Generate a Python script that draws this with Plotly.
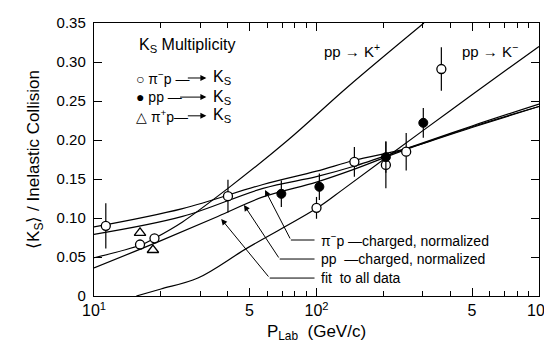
import math
import plotly.graph_objects as go

# pi- p -> Ks (open circles)
pim_x = [11.3, 16.1, 18.7, 40, 100, 148, 205, 253, 364]
pim_y = [0.090, 0.066, 0.074, 0.128, 0.113, 0.172, 0.168, 0.185, 0.291]
pim_err = [0.029, 0, 0, 0.021, 0.014, 0.019, 0.03, 0.024, 0.028]

# pp -> Ks (filled circles)
pp_x = [69.5, 103, 205, 302]
pp_y = [0.131, 0.140, 0.178, 0.222]
pp_err = [0.017, 0.017, 0.02, 0.019]

# pi+ p -> Ks (triangles)
pip_x = [16.1, 18.4]
pip_y = [0.081, 0.059]

# curves
kplus_x = [10, 16.1, 18.7, 25, 40, 74.5, 138, 304]
kplus_y = [0.049, 0.065, 0.074, 0.095, 0.138, 0.200, 0.268, 0.350]
kminus_x = [15.5, 20, 29.3, 49.2, 101, 133.5, 304, 500, 1000]
kminus_y = [0.0, 0.009, 0.023, 0.062, 0.113, 0.138, 0.213, 0.258, 0.320]

pim_norm_x = [10, 25, 57.5, 100, 148, 253, 500, 1000]
pim_norm_y = [0.0885, 0.112, 0.143, 0.160, 0.174, 0.189, 0.216, 0.243]
pp_norm_x = [10, 25, 57.5, 100, 146, 253, 500, 1000]
pp_norm_y = [0.079, 0.102, 0.138, 0.153, 0.166, 0.189, 0.218, 0.246]
fit_x = [10, 20, 36, 57.5, 100, 146, 253, 500, 1000]
fit_y = [0.036, 0.071, 0.102, 0.127, 0.146, 0.162, 0.188, 0.217, 0.243]

FONT = 'Liberation Sans'

fig = go.Figure()

for cx, cy in [(kplus_x, kplus_y), (kminus_x, kminus_y), (pim_norm_x, pim_norm_y),
               (pp_norm_x, pp_norm_y), (fit_x, fit_y)]:
    fig.add_trace(go.Scatter(x=cx, y=cy, mode='lines', line_shape='spline',
                             line=dict(color='black', width=1.2), hoverinfo='skip'))

err = dict(type='data', width=0, thickness=1.2, color='black')
fig.add_trace(go.Scatter(x=pim_x, y=pim_y, mode='markers', name='π⁻p',
                         error_y=dict(err, array=pim_err),
                         marker=dict(symbol='circle', size=9, color='white',
                                     line=dict(color='black', width=1.3))))
fig.add_trace(go.Scatter(x=pp_x, y=pp_y, mode='markers', name='pp',
                         error_y=dict(err, array=pp_err),
                         marker=dict(symbol='circle', size=9, color='black',
                                     line=dict(color='black', width=1))))
fig.add_trace(go.Scatter(x=pip_x, y=pip_y, mode='markers', name='π⁺p',
                         marker=dict(symbol='triangle-up', size=10, color='white',
                                     line=dict(color='black', width=1.3))))

ann = []


def text(x, y, s, size=14, xanchor='left'):
    ann.append(dict(x=math.log10(x), y=y, xref='x', yref='y', text=s, showarrow=False,
                    xanchor=xanchor, yanchor='middle', font=dict(family=FONT, size=size)))


def leader(x0, y0, x1, y1, head=0):
    ann.append(dict(x=math.log10(x1), y=y1, ax=math.log10(x0), ay=y0, xref='x', yref='y',
                    axref='x', ayref='y', text='', showarrow=True, arrowhead=head,
                    arrowsize=1.2, arrowwidth=1, arrowcolor='black', standoff=0))


# legend block
text(15.6, 0.321, 'K<sub>S</sub> Multiplicity', size=16)
text(15.2, 0.2795, '○ π<sup>−</sup>p —', size=14)
text(15.2, 0.255, '● pp —', size=14)
text(15.2, 0.231, '△ π<sup>+</sup>p—', size=14)
for yy in [0.2795, 0.255, 0.231]:
    leader(26.0 if yy != 0.255 else 24.0, yy, 32.0, yy, head=2)
    text(33.5, yy, 'K<sub>S</sub>', size=16)

text(106, 0.315, 'pp → K<sup>+</sup>', size=15)
text(440, 0.315, 'pp → K<sup>−</sup>', size=15)

# curve labels with leaders
text(102.5, 0.0718, 'π<sup>−</sup>p —charged, normalized', size=14)
text(102.5, 0.0474, 'pp  —charged, normalized', size=14)
text(102.5, 0.023, 'fit  to all data', size=14)
leader(99.5, 0.0718, 76.7, 0.0718)
leader(76.7, 0.0718, 58.7, 0.136, head=2)
leader(99.5, 0.0474, 68.3, 0.0474)
leader(68.3, 0.0474, 47.2, 0.1167, head=2)
leader(99.5, 0.023, 61.6, 0.023)
leader(61.6, 0.023, 37.3, 0.0987, head=2)

fig.update_layout(
    width=552, height=347,
    margin=dict(l=86, r=21, t=15, b=59),
    plot_bgcolor='white', paper_bgcolor='white',
    showlegend=False,
    font=dict(family=FONT, size=15, color='black'),
    annotations=ann,
    xaxis=dict(type='log', range=[1, 3], showgrid=False, zeroline=False, automargin=False,
               tickvals=[10, 50, 100, 500, 1000],
               ticktext=['10<sup>1</sup>', '5', '10<sup>2</sup>', '5', '10<sup>3</sup>'],
               ticks='inside', ticklen=8, tickwidth=1.2, tickcolor='black',
               showline=True, linecolor='black', linewidth=1.4, mirror='ticks',
               minor=dict(ticks='inside', ticklen=5, tickcolor='black', tickwidth=1.1,
                          tickvals=[20, 30, 40, 60, 70, 80, 90, 200, 300, 400, 600, 700, 800, 900]),
               tickfont=dict(size=16),
               title=dict(text='P<sub>Lab</sub>  (GeV/c)', font=dict(size=17), standoff=6)),
    yaxis=dict(range=[0, 0.35], showgrid=False, zeroline=False, automargin=False,
               tickvals=[0, 0.05, 0.10, 0.15, 0.20, 0.25, 0.30, 0.35],
               ticktext=['0', '0.05', '0.10', '0.15', '0.20', '0.25', '0.30', '0.35'],
               ticks='inside', ticklen=8, tickwidth=1.2, tickcolor='black',
               showline=True, linecolor='black', linewidth=1.4, mirror='ticks',
               tickfont=dict(size=15), ticklabelstandoff=4,
               title=dict(text='⟨K<sub>S</sub>⟩ / Inelastic Collision', font=dict(size=17), standoff=12)),
)

fig.write_html("out.html")
